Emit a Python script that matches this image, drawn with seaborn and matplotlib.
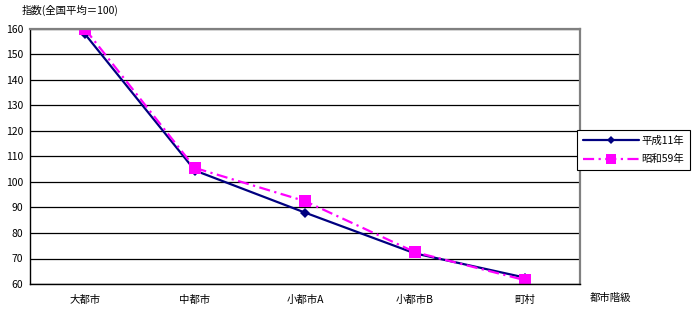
import matplotlib
matplotlib.use("Agg")
import matplotlib.pyplot as plt
import seaborn as sns
import pandas as pd
import numpy as np

categories = ["大都市", "中都市", "小都市A", "小都市B", "町村"]
heisei11 = [158, 104.5, 88, 72, 62.5]
showa59 = [160, 105.5, 92.5, 72.5, 61.5]
series_names = ["平成11年", "昭和59年"]
yticks = [60, 70, 80, 90, 100, 110, 120, 130, 140, 150, 160]

sns.set_theme(style="white")
plt.rcParams['font.family'] = ['Noto Sans CJK JP', 'DejaVu Sans']
plt.rcParams['text.color'] = 'black'
plt.rcParams['xtick.color'] = 'black'
plt.rcParams['ytick.color'] = 'black'

df = pd.DataFrame({
    "cat": list(range(len(categories))) * 2,
    "value": heisei11 + showa59,
    "series": [series_names[0]] * len(categories) + [series_names[1]] * len(categories),
})

fig = plt.figure(figsize=(6.95, 3.10), dpi=100)
ax = fig.add_axes([30/695, 26/310, 550/695, 255/310])

palette = {series_names[0]: "#000080", series_names[1]: "#FF00FF"}
sns.lineplot(data=df, x="cat", y="value", hue="series", style="series",
             palette=palette, markers={series_names[0]: "D", series_names[1]: "s"},
             dashes={series_names[0]: "", series_names[1]: (5, 2, 1, 2)},
             linewidth=1.6, markersize=7, markeredgewidth=0, ax=ax, legend=True)
for line in ax.lines:
    if line.get_marker() == "s":
        line.set_markersize(8.5)
    elif line.get_marker() == "D":
        line.set_markersize(5.5)

ax.set_xlim(-0.5, 4.5)
ax.set_ylim(60, 160)
ax.set_yticks(yticks)
ax.set_yticklabels([str(v) for v in yticks], fontsize=7.5)
ax.yaxis.grid(True, color="black", linewidth=0.9)
ax.set_axisbelow(True)
ax.set_xticks(range(len(categories)))
ax.set_xticklabels(categories, fontsize=7.5)
ax.tick_params(axis="x", which="major", length=0, pad=8)
ax.set_xticks(np.arange(-0.5, 4.6, 1.0), minor=True)
ax.tick_params(axis="x", which="minor", length=3, direction="out", color="black", width=0.8)
ax.tick_params(axis="y", which="major", length=3, direction="out", color="black", width=0.8, pad=2)
ax.set_xlabel("")
ax.set_ylabel("")

for side in ["left", "bottom"]:
    ax.spines[side].set_color("black")
    ax.spines[side].set_linewidth(1.0)
for side in ["top", "right"]:
    ax.spines[side].set_color("#808080")
    ax.spines[side].set_linewidth(1.6)

leg = ax.legend(loc="upper left", bbox_to_anchor=(577/695, (310-130)/310),
                bbox_transform=fig.transFigure, fontsize=7.5, frameon=True,
                fancybox=False, edgecolor="black", borderpad=0.55, handlelength=5.4,
                labelspacing=0.8, handletextpad=0.2, borderaxespad=0, markerscale=0.8)
leg.get_frame().set_linewidth(0.8)
leg.get_frame().set_alpha(1)
leg.set_title(None)

fig.text(22/695, 1 - 10/310, "指数(全国平均＝100)", fontsize=7.5, va="center", ha="left")
fig.text(610/695, 1 - 298/310, "都市階級", fontsize=7.5, va="center", ha="center")

fig.savefig("out.png", dpi=100)
